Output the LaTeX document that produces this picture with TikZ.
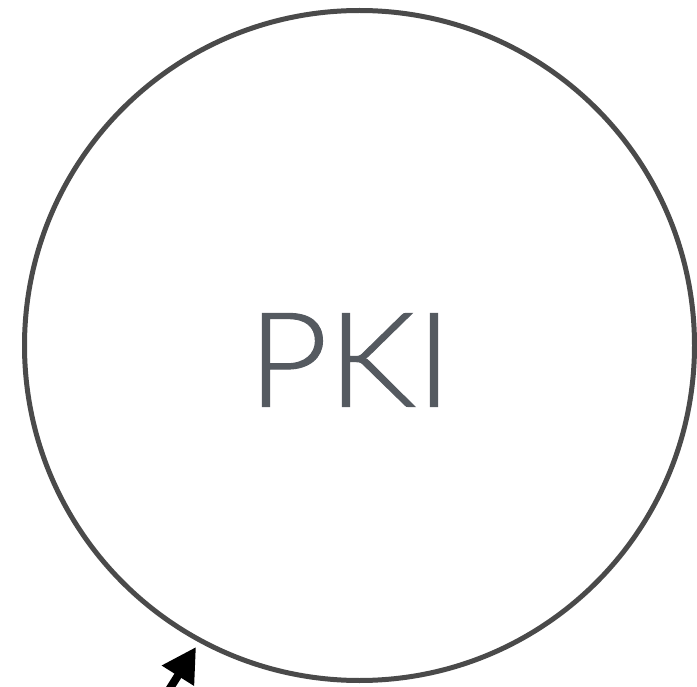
\documentclass[tikz,border=0pt]{standalone}
\usepackage{fontspec}
\setmainfont{Lato Light}[FakeStretch=1.05,FakeBold=0.8]
\usetikzlibrary{arrows.meta}
\definecolor{ring}{HTML}{4A4A4A}
\definecolor{txt}{HTML}{555A60}
\begin{document}
\begin{tikzpicture}[x=1pt,y=-1pt,
  ringstyle/.style={circle,draw=ring,line width=5pt,minimum size=670pt,inner sep=0pt},
  lblstyle/.style={text=txt,font=\fontsize{132}{132}\selectfont,inner sep=0pt,anchor=center},
  arrowstyle/.style={line width=8pt,-{Triangle[length=34pt,width=36pt]}}]
\useasboundingbox (0,0) rectangle (697,687);
\clip (0,0) rectangle (697,687);
\node[ringstyle] (pki) at (359.5,345.5) {};
\node[lblstyle] (lbl) at (350,360) {PKI};
\coordinate (src) at (150,720);
\coordinate (tip) at (196,647);
\draw[arrowstyle] (src) -- (tip);
\end{tikzpicture}
\end{document}
